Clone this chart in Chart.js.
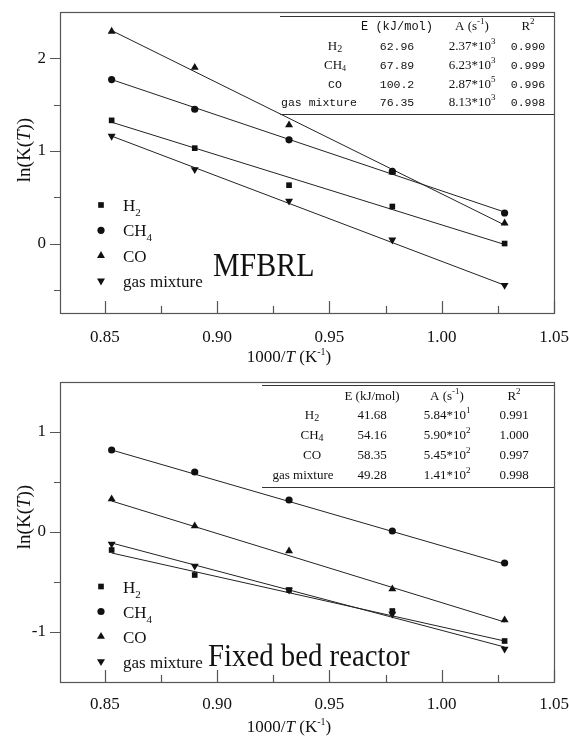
<!DOCTYPE html>
<html>
<head>
<meta charset="utf-8">
<script src="https://cdn.jsdelivr.net/npm/chart.js@4.4.0/dist/chart.umd.min.js"></script>
<style>
  html, body { margin: 0; padding: 0; background: #fff; }
  .panel { position: relative; width: 569px; height: 368px; }
</style>
</head>
<body>
<div class="panel"><canvas id="mfbChart" width="569" height="368"></canvas></div>
<div class="panel"><canvas id="fixedChart" width="569" height="368"></canvas></div>
<script>
// 1000/T values of the measurements
const xValues = [0.853, 0.890, 0.932, 0.978, 1.028];
const xTicks = [0.85, 0.90, 0.95, 1.00, 1.05];
const xMinor = [0.875, 0.925, 0.975, 1.025];

// MFBRL, ln(K(T))
const mfbH2 = [1.33, 1.03, 0.63, 0.40, 0.00];
const mfbCH4 = [1.77, 1.45, 1.12, 0.78, 0.33];
const mfbCO = [2.29, 1.90, 1.28, 0.77, 0.22];
const mfbGas = [1.16, 0.80, 0.46, 0.04, -0.45];
// fitted lines, value at first and last x
const mfbFitH2 = [1.31, -0.01];
const mfbFitCH4 = [1.77, 0.34];
const mfbFitCO = [2.30, 0.20];
const mfbFitGas = [1.16, -0.45];
const mfbYTicks = [0, 1, 2];
const mfbYMinor = [-0.5, 0.5, 1.5];

// Fixed bed reactor, ln(K(T))
const fixH2 = [-0.18, -0.43, -0.58, -0.79, -1.09];
const fixCH4 = [0.82, 0.60, 0.32, 0.01, -0.31];
const fixCO = [0.33, 0.06, -0.19, -0.57, -0.88];
const fixGas = [-0.12, -0.34, -0.58, -0.82, -1.17];
const fixFitH2 = [-0.21, -1.09];
const fixFitCH4 = [0.82, -0.32];
const fixFitCO = [0.31, -0.90];
const fixFitGas = [-0.11, -1.15];
const fixYTicks = [-1, 0, 1];
const fixYMinor = [-0.5, 0.5];

// kinetic parameter tables
const mfbE = ['62.96', '67.89', '100.2', '76.35'];
const mfbA = ['2.37', '6.23', '2.87', '8.13'];
const mfbAExp = ['3', '3', '5', '3'];
const mfbR2 = ['0.990', '0.999', '0.996', '0.998'];
const fixE = ['41.68', '54.16', '58.35', '49.28'];
const fixA = ['5.84', '5.90', '5.45', '1.41'];
const fixAExp = ['1', '2', '2', '2'];
const fixR2 = ['0.991', '1.000', '0.997', '0.998'];

const markers = [
  { style: 'rect', radius: 4, rotation: 0 },
  { style: 'circle', radius: 3.6, rotation: 0 },
  { style: 'triangle', radius: 4.6, rotation: 0 },
  { style: 'triangle', radius: 4.6, rotation: 180 }
];

const SERIF = '"Liberation Serif", "Times New Roman", serif';
const MONO = '"Liberation Mono", monospace';
const INK = '#111';
const FRAME = '#555';

function font(size, fam, italic) {
  return (italic ? 'italic ' : '') + size + 'px ' + fam;
}

// parts: [text, font, dy]; y is the baseline
function drawRich(ctx, parts, x, y, align, sx) {
  sx = sx || 1;
  let w = 0;
  parts.forEach(p => { ctx.font = p[1]; w += ctx.measureText(p[0]).width; });
  ctx.save();
  ctx.translate(x, y);
  ctx.scale(sx, 1);
  ctx.textAlign = 'left';
  ctx.textBaseline = 'alphabetic';
  ctx.fillStyle = INK;
  let cx = align === 'center' ? -w / 2 : (align === 'right' ? -w : 0);
  parts.forEach(p => {
    ctx.font = p[1];
    ctx.fillText(p[0], cx, p[2] || 0);
    cx += ctx.measureText(p[0]).width;
  });
  ctx.restore();
}

function legendLabel(i, size) {
  const f = font(size, SERIF), s = font(Math.round(size * 0.62), SERIF);
  if (i === 0) return [['H', f], ['2', s, 5]];
  if (i === 1) return [['CH', f], ['4', s, 5]];
  if (i === 2) return [['CO', f]];
  return [['gas mixture', f]];
}

function buildDatasets(series, fits) {
  const sets = [];
  series.forEach((vals, i) => {
    const m = markers[i];
    sets.push({
      data: xValues.map((x, j) => ({ x: x, y: vals[j] })),
      showLine: false,
      pointStyle: m.style,
      pointRadius: m.radius,
      pointRotation: m.rotation,
      pointBorderWidth: 0,
      backgroundColor: INK,
      borderColor: INK
    });
  });
  fits.forEach(f => {
    sets.push({
      data: [{ x: xValues[0], y: f[0] }, { x: xValues[xValues.length - 1], y: f[1] }],
      showLine: true,
      pointRadius: 0,
      borderWidth: 1,
      borderColor: '#222',
      backgroundColor: '#222'
    });
  });
  return sets;
}

function makeChart(id, cfg) {
  const decor = {
    id: 'decor',
    afterDraw(chart) {
      const ctx = chart.ctx;
      const a = chart.chartArea;
      const xs = chart.scales.x, ys = chart.scales.y;
      ctx.save();
      // frame
      ctx.strokeStyle = FRAME;
      ctx.lineWidth = 1.2;
      ctx.strokeRect(a.left + 0.5, a.top + 0.5, a.right - a.left, a.bottom - a.top);
      // x ticks point inwards
      ctx.beginPath();
      xTicks.forEach(v => {
        const px = Math.round(xs.getPixelForValue(v)) + 0.5;
        ctx.moveTo(px, a.bottom); ctx.lineTo(px, a.bottom - 12);
      });
      xMinor.forEach(v => {
        const px = Math.round(xs.getPixelForValue(v)) + 0.5;
        ctx.moveTo(px, a.bottom); ctx.lineTo(px, a.bottom - 7);
      });
      // y ticks point outwards
      cfg.yTicks.forEach(v => {
        const py = Math.round(ys.getPixelForValue(v)) + 0.5;
        ctx.moveTo(a.left, py); ctx.lineTo(a.left - 10, py);
      });
      cfg.yMinor.forEach(v => {
        const py = Math.round(ys.getPixelForValue(v)) + 0.5;
        ctx.moveTo(a.left, py); ctx.lineTo(a.left - 6, py);
      });
      ctx.stroke();

      // legend
      ctx.fillStyle = INK;
      ctx.strokeStyle = INK;
      markers.forEach((m, i) => {
        const y = cfg.legendY + i * cfg.legendGap;
        Chart.helpers.drawPoint(ctx, { pointStyle: m.style, radius: m.radius, rotation: m.rotation, borderWidth: 0 }, 101, y);
        drawRich(ctx, legendLabel(i, 17), 123, y + 6, 'left');
      });

      // table
      const t = cfg.table;
      ctx.strokeStyle = '#333';
      ctx.lineWidth = 1;
      ctx.beginPath();
      ctx.moveTo(t.left, t.topLine + 0.5); ctx.lineTo(a.right, t.topLine + 0.5);
      ctx.moveTo(t.left, t.bottomLine + 0.5); ctx.lineTo(a.right, t.bottomLine + 0.5);
      ctx.stroke();
      t.header.forEach((parts, c) => drawRich(ctx, parts, t.cols[c], t.headerY, 'center'));
      t.rowY.forEach((ry, r) => {
        drawRich(ctx, t.labels[r], t.labelX[r], ry, 'center');
        drawRich(ctx, [[t.E[r], t.numFont]], t.cols[1], ry, 'center');
        drawRich(ctx, [[t.A[r] + '*10', font(13, SERIF)], [t.AExp[r], font(9, SERIF), -6]], t.cols[2], ry, 'center');
        drawRich(ctx, [[t.R2[r], t.numFont]], t.cols[3], ry, 'center');
      });

      // reactor name
      drawRich(ctx, [[cfg.name, font(cfg.nameSize, SERIF)]], cfg.nameX, cfg.nameY, 'left', cfg.nameScale);

      // axis titles
      drawRich(ctx, [['1000/', font(17, SERIF)], ['T', font(17, SERIF, true)], [' (K', font(17, SERIF)],
        ['-1', font(10, SERIF), -7], [')', font(17, SERIF)]], 289, cfg.xTitleY, 'center');
      ctx.save();
      ctx.translate(30, cfg.yTitleY);
      ctx.rotate(-Math.PI / 2);
      drawRich(ctx, [['ln(K(', font(19, SERIF)], ['T', font(19, SERIF, true)], ['))', font(19, SERIF)]], 0, 0, 'center');
      ctx.restore();
      ctx.restore();
    }
  };

  return new Chart(document.getElementById(id), {
    type: 'scatter',
    data: { datasets: buildDatasets(cfg.series, cfg.fits) },
    options: {
      responsive: false,
      animation: false,
      devicePixelRatio: 1,
      layout: { padding: { top: cfg.plotTop, right: 15, left: 0, bottom: 0 } },
      plugins: { legend: { display: false }, tooltip: { enabled: false } },
      scales: {
        x: {
          type: 'linear',
          min: 0.83,
          max: 1.05,
          afterBuildTicks: s => { s.ticks = xTicks.map(v => ({ value: v })); },
          afterFit: s => {
            s.height = cfg.axisHeight;
            s.paddingLeft = 0;
            s.paddingRight = 0;
          },
          grid: { display: false, drawTicks: false },
          border: { display: false },
          ticks: {
            autoSkip: false,
            maxRotation: 0,
            padding: cfg.xLabelPad,
            color: INK,
            font: { family: SERIF, size: 17 },
            callback: v => Number(v).toFixed(2)
          }
        },
        y: {
          type: 'linear',
          min: cfg.yMin,
          max: cfg.yMax,
          afterBuildTicks: s => { s.ticks = cfg.yTicks.map(v => ({ value: v })); },
          afterFit: s => {
            s.width = 60;
            s.paddingTop = 0;
            s.paddingBottom = 0;
          },
          grid: { display: false, drawTicks: false },
          border: { display: false },
          ticks: {
            padding: 14,
            color: INK,
            font: { family: SERIF, size: 17 },
            callback: v => String(v)
          }
        }
      }
    },
    plugins: [decor]
  });
}

function tableHeader(eParts) {
  return [
    [['', font(13, SERIF)]],
    eParts,
    [['A (s', font(13, SERIF)], ['-1', font(9, SERIF), -6], [')', font(13, SERIF)]],
    [['R', font(13, SERIF)], ['2', font(9, SERIF), -6]]
  ];
}

function subLabel(base, sub, f, sf) {
  return [[base, f], [sub, sf, 2]];
}

// MFBRL chart
makeChart('mfbChart', {
  series: [mfbH2, mfbCH4, mfbCO, mfbGas],
  fits: [mfbFitH2, mfbFitCH4, mfbFitCO, mfbFitGas],
  yMin: -0.75, yMax: 2.5,
  yTicks: mfbYTicks, yMinor: mfbYMinor,
  plotTop: 12, axisHeight: 55, xLabelPad: 14,
  legendY: 205, legendGap: 25.3,
  name: 'MFBRL', nameSize: 34, nameX: 213, nameY: 276, nameScale: 0.88,
  xTitleY: 362, yTitleY: 150,
  table: {
    left: 280, topLine: 16, bottomLine: 114,
    cols: [320, 397, 472, 528],
    labelX: [335, 335, 335, 319],
    headerY: 30,
    rowY: [50, 69, 87.5, 106],
    numFont: font(11.5, MONO),
    header: tableHeader([['E (kJ/mol)', font(12, MONO)]]),
    labels: [
      subLabel('H', '2', font(13, SERIF), font(10, SERIF)),
      subLabel('CH', '4', font(13, SERIF), font(8, SERIF)),
      [['CO', font(11.5, MONO)]],
      [['gas mixture', font(11.5, MONO)]]
    ],
    E: mfbE, A: mfbA, AExp: mfbAExp, R2: mfbR2
  }
});

// Fixed bed reactor chart
makeChart('fixedChart', {
  series: [fixH2, fixCH4, fixCO, fixGas],
  fits: [fixFitH2, fixFitCH4, fixFitCO, fixFitGas],
  yMin: -1.5, yMax: 1.5,
  yTicks: fixYTicks, yMinor: fixYMinor,
  plotTop: 14, axisHeight: 54, xLabelPad: 12,
  legendY: 218.5, legendGap: 25,
  name: 'Fixed bed reactor', nameSize: 32, nameX: 208, nameY: 298, nameScale: 0.9,
  xTitleY: 364, yTitleY: 149,
  table: {
    left: 262, topLine: 17, bottomLine: 119,
    cols: [305, 372, 447, 514],
    labelX: [312, 312, 312, 303],
    headerY: 32,
    rowY: [51, 71, 91, 111],
    numFont: font(13, SERIF),
    header: tableHeader([['E (kJ/mol)', font(13, SERIF)]]),
    labels: [
      subLabel('H', '2', font(13, SERIF), font(10, SERIF)),
      subLabel('CH', '4', font(13, SERIF), font(10, SERIF)),
      [['CO', font(13, SERIF)]],
      [['gas mixture', font(13, SERIF)]]
    ],
    E: fixE, A: fixA, AExp: fixAExp, R2: fixR2
  }
});
</script>
</body>
</html>
